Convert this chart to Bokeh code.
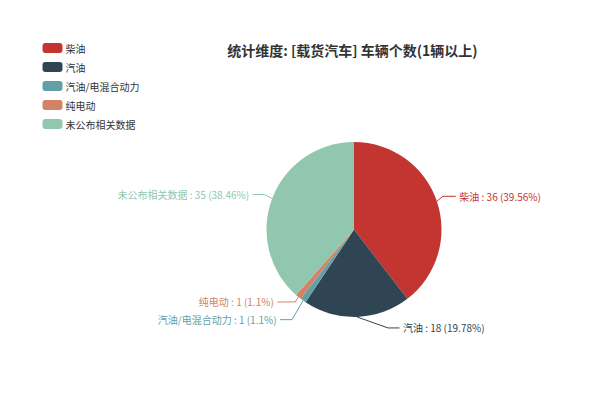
import numpy as np
from bokeh.plotting import figure
from bokeh.models import Range1d, ColumnDataSource
from bokeh.core.properties import value
from bokeh.embed import file_html
from bokeh.resources import INLINE

# ---- data ----
categories = ["柴油", "汽油", "汽油/电混合动力", "纯电动", "未公布相关数据"]
counts = [36, 18, 1, 1, 35]
percent_labels = ["39.56%", "19.78%", "1.1%", "1.1%", "38.46%"]
title_text = "统计维度: [载货汽车] 车辆个数(1辆以上)"

# ---- styles / layout ----
colors = ["#c23531", "#2f4554", "#61a0a8", "#d48265", "#91c7ae"]
FONT = "Noto Sans CJK SC"
W, H = 584, 384
cx, cy_img, R = 353.5, 229.0, 87.5
# label line elbow offsets (px, image coords) and horizontal segment length
elbow_dx = [6, 31, -11, -3, -8]
elbow_dy = [-5, 11, 19, 5, -4]
horiz_len = [13, 11.5, 12, 18, 11.6]
text_gap = 3.5
legend_x, legend_y0, legend_step = 52, 47.5, 19

def Y(y_img):
    return 400 - y_img

p = figure(width=W, height=H, output_backend="svg", toolbar_location=None,
           x_range=Range1d(0, W), y_range=Range1d(400 - H, 400),
           x_axis_location=None, y_axis_location=None, min_border=0)
p.grid.visible = False
p.outline_line_color = None
p.background_fill_color = "white"
p.border_fill_color = "white"

vals = np.array(counts, dtype=float)
frac = vals / vals.sum()
cum_end = np.cumsum(frac)
cum_start = cum_end - frac
start_ang = np.pi / 2 - cum_start * 2 * np.pi
end_ang = np.pi / 2 - cum_end * 2 * np.pi

src = ColumnDataSource(dict(start=start_ang, end=end_ang, color=colors))
p.wedge(x=cx, y=Y(cy_img), radius=R, start_angle="start", end_angle="end",
        direction="clock", fill_color="color", line_color=None, source=src)

# label lines and texts
mid = (cum_start + cum_end) / 2 * 2 * np.pi  # clockwise from top
for i, cat in enumerate(categories):
    sx = cx + R * np.sin(mid[i])
    sy = cy_img - R * np.cos(mid[i])
    ex, ey = sx + elbow_dx[i], sy + elbow_dy[i]
    right = np.sin(mid[i]) > 0.02 or i == 1
    hx = ex + horiz_len[i] if right else ex - horiz_len[i]
    p.line([sx, ex, hx], [Y(sy), Y(ey), Y(ey)], line_color=colors[i], line_width=1)
    tx = hx + text_gap if right else hx - text_gap
    p.text(x=[tx], y=[Y(ey)], text=[f"{cat} : {counts[i]} ({percent_labels[i]})"],
           text_color=colors[i], text_font=value(FONT), text_font_size="10px",
           text_align="left" if right else "right", text_baseline="middle")

# legend
for i, cat in enumerate(categories):
    ly = legend_y0 + i * legend_step
    p.rect(x=[legend_x], y=[Y(ly)], width=20, height=10, fill_color=colors[i],
           line_color=None, border_radius=3)
    p.text(x=[legend_x + 13], y=[Y(ly)], text=[cat], text_color="#333333",
           text_font=value(FONT), text_font_size="10px", text_align="left",
           text_baseline="middle")

# title
p.text(x=[352], y=[Y(49)], text=[title_text], text_color="#333333",
       text_font=value(FONT), text_font_size="14px", text_font_style="bold",
       text_align="center", text_baseline="middle")

open("out.html", "w").write(file_html(p, INLINE))
